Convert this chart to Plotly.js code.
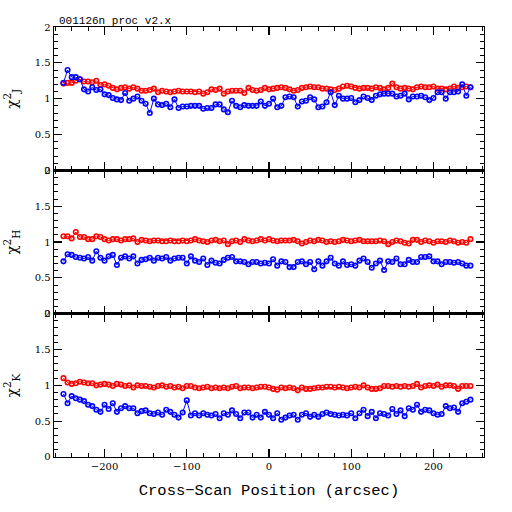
<!DOCTYPE html>
<html>
<head>
<meta charset="utf-8">
<script src="https://cdn.plot.ly/plotly-3.0.1.min.js"></script>
<style>html,body{margin:0;padding:0;background:#fff;}#chart{width:512px;height:512px;}</style>
</head>
<body>
<div id="chart"></div>
<script>
const positions = [-250,-245,-240,-235,-230,-225,-220,-215,-210,-205,
  -200,-195,-190,-185,-180,-175,-170,-165,-160,-155,
  -150,-145,-140,-135,-130,-125,-120,-115,-110,-105,
  -100,-95,-90,-85,-80,-75,-70,-65,-60,-55,
  -50,-45,-40,-35,-30,-25,-20,-15,-10,-5,
  0,5,10,15,20,25,30,35,40,45,
  50,55,60,65,70,75,80,85,90,95,
  100,105,110,115,120,125,130,135,140,145,
  150,155,160,165,170,175,180,185,190,195,
  200,205,210,215,220,225,230,235,240,245];

const jRed = [1.21,1.22,1.22,1.25,1.27,1.24,1.24,1.23,1.25,1.19,
  1.20,1.18,1.15,1.13,1.15,1.16,1.14,1.16,1.14,1.11,
  1.11,1.12,1.14,1.09,1.11,1.10,1.09,1.10,1.11,1.10,
  1.10,1.10,1.09,1.10,1.07,1.09,1.13,1.12,1.14,1.07,
  1.10,1.11,1.11,1.11,1.08,1.15,1.12,1.11,1.12,1.15,
  1.13,1.14,1.15,1.16,1.15,1.13,1.11,1.12,1.15,1.16,
  1.17,1.16,1.16,1.14,1.14,1.13,1.12,1.14,1.17,1.18,
  1.17,1.15,1.14,1.15,1.15,1.14,1.16,1.15,1.13,1.15,
  1.21,1.16,1.14,1.15,1.14,1.13,1.16,1.17,1.16,1.16,
  1.17,1.14,1.14,1.13,1.14,1.17,1.15,1.16,1.17,1.16];
const jBlue = [1.22,1.40,1.30,1.30,1.27,1.13,1.10,1.16,1.12,1.13,
  1.06,1.05,1.01,0.99,0.98,1.08,0.97,1.00,1.03,0.97,
  0.93,0.80,1.00,0.92,0.91,0.93,0.88,0.99,0.87,0.89,
  0.89,0.90,0.90,0.90,0.86,0.87,0.87,0.92,0.92,0.85,
  0.81,0.97,0.90,0.88,0.91,0.90,0.90,0.90,0.96,0.90,
  0.93,1.00,0.88,0.90,1.02,1.03,1.02,0.89,0.96,0.97,
  1.02,0.99,0.88,0.89,0.95,1.09,0.91,1.04,1.00,1.00,
  1.01,0.95,0.98,1.03,1.01,0.98,1.04,1.06,1.07,1.07,
  1.07,1.03,1.04,1.07,0.99,1.03,1.03,1.04,1.02,0.98,
  1.01,1.09,1.09,1.00,1.09,1.09,1.10,1.20,1.04,1.16];

const hRed = [1.08,1.08,1.05,1.14,1.07,1.07,1.04,1.04,1.08,1.07,
  1.04,1.02,1.04,1.04,1.02,1.04,1.04,1.05,1.00,1.03,
  1.02,1.01,1.02,1.02,1.01,1.01,1.02,1.01,1.01,1.02,
  1.01,1.02,1.04,1.02,1.01,1.00,1.02,1.03,1.01,1.02,
  0.97,1.01,1.02,1.00,1.04,1.02,1.01,1.02,1.04,1.02,
  1.04,1.02,1.01,1.02,1.02,1.02,1.03,1.01,0.98,1.00,
  1.02,1.01,1.03,1.02,1.00,1.01,1.00,1.01,1.03,1.02,
  1.01,1.02,1.03,1.01,1.01,1.01,1.01,1.02,1.01,0.97,
  1.00,1.02,1.01,0.99,0.98,1.03,1.03,1.00,1.02,1.01,
  0.99,1.01,1.01,1.00,1.02,1.01,0.99,1.00,0.99,1.04];
const hBlue = [0.73,0.83,0.82,0.79,0.78,0.77,0.79,0.74,0.87,0.78,
  0.74,0.80,0.82,0.68,0.78,0.80,0.77,0.80,0.70,0.75,
  0.76,0.78,0.74,0.78,0.77,0.79,0.74,0.77,0.78,0.78,
  0.70,0.80,0.74,0.72,0.77,0.68,0.74,0.71,0.70,0.75,
  0.78,0.79,0.73,0.73,0.72,0.69,0.72,0.72,0.70,0.71,
  0.70,0.76,0.67,0.73,0.72,0.65,0.65,0.72,0.73,0.69,
  0.72,0.62,0.73,0.67,0.73,0.78,0.70,0.67,0.73,0.68,
  0.69,0.67,0.74,0.77,0.72,0.64,0.70,0.74,0.61,0.73,
  0.72,0.77,0.69,0.69,0.75,0.72,0.72,0.79,0.79,0.80,
  0.73,0.73,0.69,0.72,0.72,0.71,0.72,0.70,0.67,0.67];

const kRed = [1.10,1.04,1.02,1.03,1.05,1.04,1.03,1.03,1.00,1.01,
  1.02,1.01,0.99,1.02,1.01,0.99,1.00,0.97,1.00,0.99,
  0.99,0.98,0.97,0.99,1.00,0.98,0.99,0.97,0.98,0.96,
  0.99,0.99,0.97,0.96,0.97,0.98,0.96,0.97,0.96,0.97,
  0.96,0.98,0.99,0.96,0.97,0.97,0.96,0.97,0.98,0.98,
  0.97,0.95,0.94,0.97,0.96,0.97,0.96,0.93,0.97,0.95,
  0.95,0.96,0.97,0.97,0.98,0.98,0.97,0.98,0.97,0.96,
  0.97,0.98,0.97,1.00,0.97,0.95,0.95,0.96,0.99,0.99,
  0.98,0.99,0.98,0.99,0.98,0.99,1.02,0.97,0.99,1.00,
  0.99,1.01,0.98,1.00,1.00,0.99,0.95,0.99,0.99,0.99];
const kBlue = [0.88,0.75,0.85,0.82,0.80,0.78,0.73,0.71,0.66,0.63,
  0.73,0.67,0.75,0.63,0.68,0.71,0.68,0.68,0.61,0.64,
  0.65,0.61,0.60,0.62,0.59,0.66,0.63,0.59,0.55,0.62,
  0.79,0.58,0.61,0.58,0.61,0.59,0.58,0.60,0.54,0.61,
  0.59,0.65,0.60,0.54,0.62,0.62,0.55,0.59,0.55,0.63,
  0.59,0.54,0.61,0.52,0.55,0.58,0.59,0.52,0.59,0.61,
  0.56,0.59,0.56,0.60,0.62,0.60,0.59,0.58,0.59,0.58,
  0.61,0.54,0.61,0.66,0.57,0.63,0.54,0.61,0.60,0.58,
  0.67,0.60,0.65,0.57,0.68,0.66,0.73,0.63,0.66,0.65,
  0.61,0.59,0.60,0.71,0.68,0.69,0.63,0.75,0.77,0.80];

const bands = ['J','H','K'];
const redSeries = [jRed, hRed, kRed];
const blueSeries = [jBlue, hBlue, kBlue];
const yTickVals = [0, 0.5, 1, 1.5, 2];
const yTickText = ['0', '0.5', '1', '1.5', '2'];
const xTickVals = [-200, -100, 0, 100, 200];
const xTickText = ['\u2212200', '\u2212100', '0', '100', '200'];

const tickFont = {family: 'DejaVu Serif', size: 10, color: '#000'};
const traces = [];
const suffix = ['', '2', '3'];
for (let i = 0; i < 3; i++) {
  const s = suffix[i];
  traces.push({x: positions, y: redSeries[i], xaxis: 'x' + s, yaxis: 'y' + s,
    type: 'scatter', mode: 'lines+markers',
    line: {color: '#ff0000', width: 1},
    marker: {symbol: 'circle-open', size: 4.5, color: '#ff0000', line: {width: 1.6, color: '#ff0000'}},
    hoverinfo: 'skip', showlegend: false});
  traces.push({x: positions, y: blueSeries[i], xaxis: 'x' + s, yaxis: 'y' + s,
    type: 'scatter', mode: 'lines+markers',
    line: {color: '#0000ff', width: 1},
    marker: {symbol: 'circle-open', size: 4.5, color: '#0000ff', line: {width: 1.6, color: '#0000ff'}},
    hoverinfo: 'skip', showlegend: false});
}

function xAxis(anchor, labels) {
  const ax = {
    anchor: anchor, range: [-261.5, 261.5], showgrid: false, zeroline: false,
    showline: true, linecolor: '#000', linewidth: 1.4, mirror: 'allticks',
    ticks: 'inside', ticklen: 8, tickwidth: 1.2, tickcolor: '#000',
    tickvals: xTickVals, ticktext: xTickText, showticklabels: labels,
    tickfont: tickFont,
    minor: {dtick: 20, tick0: 0, ticks: 'inside', ticklen: 4, tickwidth: 1, tickcolor: '#000'}
  };
  if (labels) {
    ax.title = {text: 'Cross\u2212Scan Position (arcsec)', standoff: 12,
      font: {family: 'Liberation Mono', size: 15.5, color: '#000'}};
  }
  return ax;
}
function yAxis(anchor, domain, band) {
  return {
    anchor: anchor, domain: domain, range: [0, 2], showgrid: false, zeroline: false,
    showline: true, linecolor: '#000', linewidth: 1.4, mirror: 'allticks',
    ticks: 'inside', ticklen: 8, tickwidth: 1.2, tickcolor: '#000',
    tickvals: yTickVals, ticktext: yTickText, tickfont: tickFont,
    minor: {dtick: 0.1, tick0: 0, ticks: 'inside', ticklen: 4, tickwidth: 1, tickcolor: '#000'},
    title: {text: '\u03c7<sup>2</sup><sub>' + band + '</sub>', standoff: 13,
      font: {family: 'DejaVu Serif', size: 15, color: '#000'}}
  };
}

const layout = {
  width: 512, height: 512,
  margin: {l: 54, r: 28, t: 27, b: 55},
  paper_bgcolor: '#fff', plot_bgcolor: '#fff',
  showlegend: false,
  title: {text: '001126n proc v2.x', x: 59 / 512, xanchor: 'left', xref: 'container',
    y: 1 - 20 / 512, yanchor: 'middle', yref: 'container',
    font: {family: 'Liberation Mono', size: 11, color: '#000'}},
  xaxis: xAxis('y', false),
  xaxis2: xAxis('y2', false),
  xaxis3: xAxis('y3', true),
  yaxis: yAxis('x', [2 / 3, 1], bands[0]),
  yaxis2: yAxis('x2', [1 / 3, 2 / 3], bands[1]),
  yaxis3: yAxis('x3', [0, 1 / 3], bands[2])
};

Plotly.newPlot('chart', traces, layout, {staticPlot: true, displayModeBar: false});
</script>
</body>
</html>
